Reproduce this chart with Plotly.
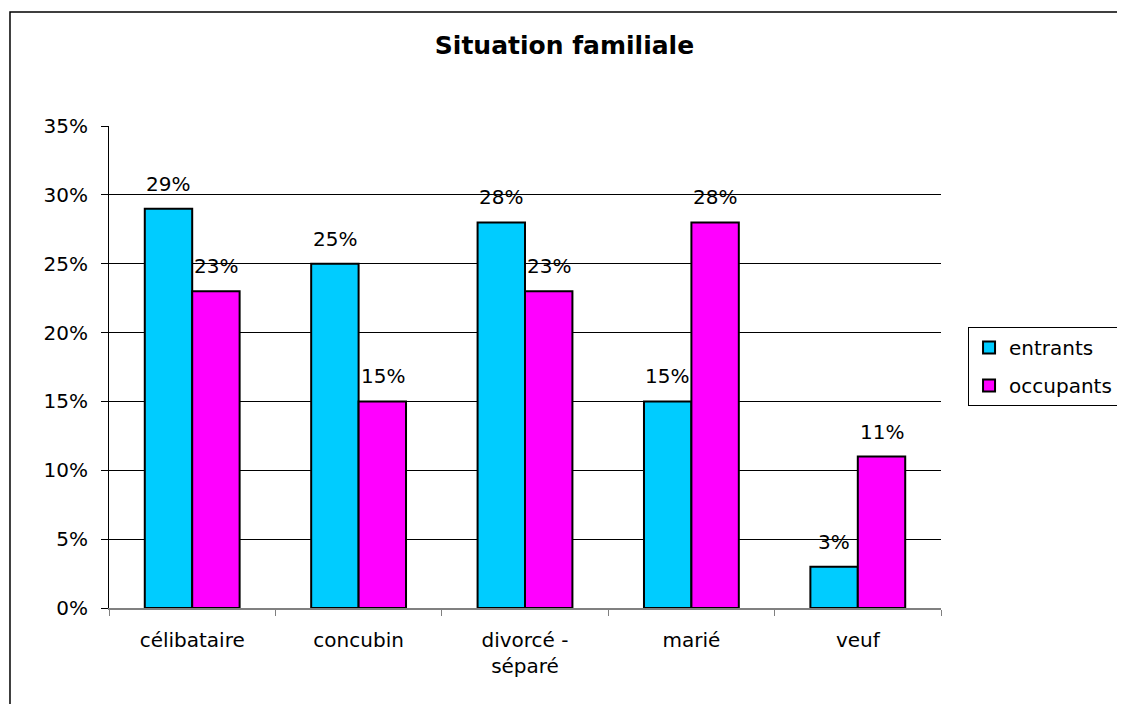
import plotly.graph_objects as go

######## DATA ########
categories = ['célibataire', 'concubin', 'divorcé -<br>séparé', 'marié', 'veuf']
entrants = [0.29, 0.25, 0.28, 0.15, 0.03]
occupants = [0.23, 0.15, 0.23, 0.28, 0.11]
series_names = ['entrants', 'occupants']
series_colors = ['#00CCFF', '#FF00FF']

FONT = 'DejaVu Sans'

######## FIGURE ########
fig = go.Figure()

for i, (name, vals) in enumerate(zip(series_names, [entrants, occupants])):
    fig.add_trace(go.Bar(
        x=categories, y=vals, name=name, legendgroup=name,
        marker=dict(color=series_colors[i], line=dict(color='black', width=2)),
    ))

#### data labels above bars
for i, vals in enumerate([entrants, occupants]):
    shift = -24 if i == 0 else 24
    for cat, v in zip(categories, vals):
        fig.add_annotation(
            x=cat, y=v, text=f"{round(v * 100)}%", showarrow=False,
            xshift=shift, yshift=25, yanchor='middle',
            font=dict(family=FONT, size=20, color='black'),
        )

#### outer chart frame
fig.add_shape(type='rect', xref='paper', yref='paper',
              x0=-0.119, x1=1.3, y0=-0.3, y1=1.2365,
              line=dict(color='black', width=1.5), layer='below')

# page body has an 8px margin, so the figure is 8px smaller than the window
fig.update_layout(
    width=1117, height=696,
    margin=dict(l=101, r=184, t=118, b=96, autoexpand=False),
    paper_bgcolor='white', plot_bgcolor='white',
    font=dict(family=FONT, size=20, color='black'),
    title=dict(text='<b>Situation familiale</b>', x=0.4982, xref='container', xanchor='center',
               y=1 - 37 / 696, yref='container', yanchor='middle',
               font=dict(family=FONT, size=25, color='black')),
    barmode='group', bargap=0.43, bargroupgap=0,
    legend=dict(x=1.0325, y=0.583, xanchor='left', yanchor='top',
                bgcolor='white', bordercolor='black', borderwidth=1,
                font=dict(family=FONT, size=20), tracegroupgap=9),
    showlegend=True,
)

fig.update_xaxes(showline=True, linecolor='#808080', linewidth=1.5,
                 ticks='outside', ticklen=6, tickcolor='#808080', tickson='boundaries',
                 ticklabelstandoff=13, showgrid=False)
fig.update_yaxes(range=[0, 0.35], dtick=0.05, tickformat='.0%',
                 showline=True, linecolor='black', linewidth=1,
                 ticks='outside', ticklen=7, tickcolor='black', ticklabelstandoff=9,
                 showgrid=True, gridcolor='black', gridwidth=1, zeroline=False)

fig.write_html("out.html")
